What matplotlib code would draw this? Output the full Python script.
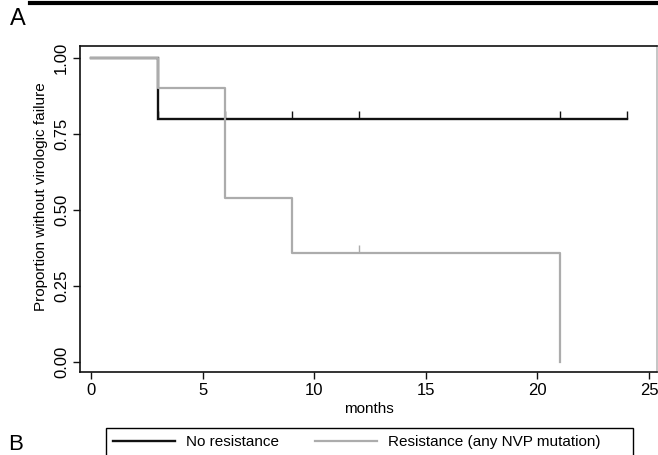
import matplotlib
matplotlib.use("Agg")
import matplotlib.pyplot as plt
from matplotlib.lines import Line2D
from matplotlib.patches import Rectangle
from matplotlib.markers import TICKUP

plt.rcParams['font.family'] = ['Liberation Sans', 'DejaVu Sans']

# Kaplan-Meier step data
no_res_t = [0, 3, 24]
no_res_s = [1.0, 0.8, 0.8]
no_res_cens_t = [3, 6, 9, 12, 21, 24]
no_res_cens_s = [0.8, 0.8, 0.8, 0.8, 0.8, 0.8]

res_t = [0, 3, 6, 9, 21]
res_s = [1.0, 0.9, 0.54, 0.36, 0.0]
res_cens_t = [12]
res_cens_s = [0.36]

x_ticks = [0, 5, 10, 15, 20, 25]
y_ticks = [0.0, 0.25, 0.5, 0.75, 1.0]
y_ticklabels = ["0.00", "0.25", "0.50", "0.75", "1.00"]
series_labels = ["No resistance", "Resistance (any NVP mutation)"]

W, H = 658, 455
fig = plt.figure(figsize=(W / 100, H / 100), dpi=100)
ax = fig.add_axes([80 / W, 1 - 372 / H, (657 - 80) / W, (372 - 46) / H])

black = "#111111"
gray = "#acacac"

l1, = ax.plot(no_res_t, no_res_s, drawstyle="steps-post", color=black, lw=1.7,
              solid_joinstyle="miter", zorder=2)
ax.plot(no_res_cens_t, no_res_cens_s, ls="none", marker=TICKUP, ms=6, mew=1.0, color=black, zorder=2)
l2, = ax.plot(res_t, res_s, drawstyle="steps-post", color=gray, lw=1.6, zorder=3)
ax.plot(res_cens_t, res_cens_s, ls="none", marker=TICKUP, ms=6, mew=1.0, color=gray, zorder=3)

ax.set_xlim(-0.49, 25.36)
ax.set_ylim(-0.033, 1.0395)
ax.set_xticks(x_ticks)
ax.set_xticklabels([str(v) for v in x_ticks], fontsize=12)
ax.set_yticks(y_ticks)
ax.set_yticklabels(y_ticklabels, fontsize=12, rotation=90, va="center")
ax.tick_params(axis="both", direction="out", length=5, width=1, color=black)
ax.tick_params(axis="x", pad=3)
ax.tick_params(axis="y", pad=3)
for s in ax.spines.values():
    s.set_color(black)
    s.set_linewidth(1.2)
ax.spines["right"].set_color("#bbbbbb")

ax.set_xlabel("months", fontsize=11, labelpad=3)
ax.set_ylabel("Proportion without virologic failure", fontsize=11)
ax.yaxis.set_label_coords(-0.055, 0.537)

# Panel decorations
fig.add_artist(Line2D([30 / W, 1.0], [1 - 3 / H, 1 - 3 / H], color="black", lw=3))
fig.text(10 / W, 1 - 19 / H, "A", fontsize=17, va="center", ha="left")
fig.text(8 / W, 1 - 455 / H, "B", fontsize=16, va="bottom", ha="left")

leg = fig.legend([l1, l2], series_labels, loc="upper left",
                 bbox_to_anchor=(106 / W, 1 - 428 / H), ncol=2, fontsize=11,
                 frameon=False, handlelength=4.05, columnspacing=2.35,
                 borderpad=0.45, borderaxespad=0, handletextpad=0.72)
fig.add_artist(Rectangle((106 / W, 1 - 462 / H), (633 - 106) / W, (462 - 428) / H,
                         transform=fig.transFigure, fill=False, edgecolor="black", lw=1.0))

fig.savefig("out.png", dpi=100)
